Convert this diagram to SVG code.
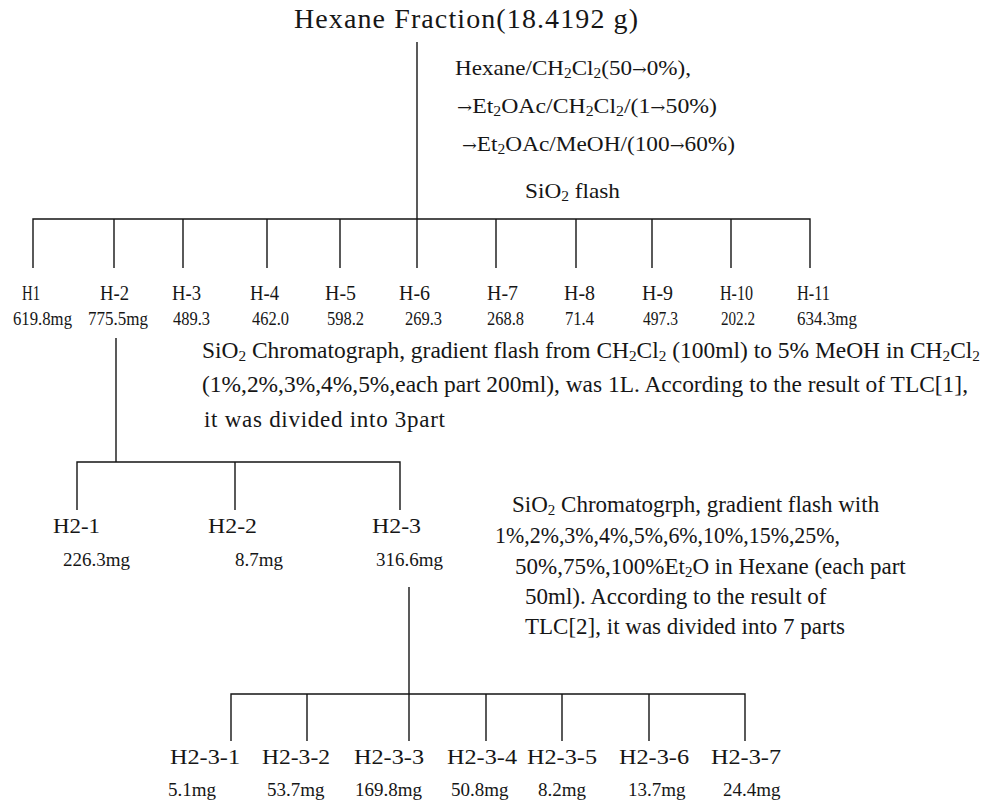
<svg xmlns="http://www.w3.org/2000/svg" width="993" height="804" viewBox="0 0 993 804">
<style>
text{font-family:"Liberation Serif","Times New Roman",serif;fill:#161616}
.t{font-size:28px}
.d{font-size:21px}
.h{font-size:20px}
.m{font-size:18px}
.l2{font-size:21px}
.m2{font-size:19px}
.p{font-size:23px}
.s{font-size:14px;baseline-shift:-3px}
.ps{font-size:15px;baseline-shift:-3px}
.ar{font-family:"DejaVu Serif",serif;font-size:16px}
#connectors path{stroke:#151515;stroke-width:1.4;fill:none}
</style>
<rect width="993" height="804" fill="#fff"/>
<g id="connectors">
<path d="M417 42V268"/>
<path d="M33 268V219H810V268"/>
<path d="M114 219V268M183 219V268M267 219V268M340 219V268M496 219V268M576 219V268M652 219V268M731 219V268"/>
<path d="M116 338V462"/>
<path d="M77 510V462H400V510M235 462V510"/>
<path d="M409 587V741"/>
<path d="M231 741V694H745V741"/>
<path d="M307 694V741M486 694V741M562 694V741M649 694V741"/>
</g>
<g id="node-hexane"><text class="t" x="294" y="28" textLength="344" lengthAdjust="spacing">Hexane Fraction(18.4192 g)</text></g>
<g id="note-flash">
<text class="d" x="455" y="75" textLength="236" lengthAdjust="spacingAndGlyphs">Hexane/CH<tspan class="s">2</tspan>Cl<tspan class="s">2</tspan>(50<tspan class="ar">→</tspan>0%),</text>
<text class="d" x="457" y="113" textLength="260" lengthAdjust="spacingAndGlyphs"><tspan class="ar">→</tspan>Et<tspan class="s">2</tspan>OAc/CH<tspan class="s">2</tspan>Cl<tspan class="s">2</tspan>/(1<tspan class="ar">→</tspan>50%)</text>
<text class="d" x="462" y="151" textLength="273" lengthAdjust="spacingAndGlyphs"><tspan class="ar">→</tspan>Et<tspan class="s">2</tspan>OAc/MeOH/(100<tspan class="ar">→</tspan>60%)</text>
<text class="d" x="525" y="198" textLength="95" lengthAdjust="spacingAndGlyphs">SiO<tspan class="s">2</tspan> flash</text>
</g>
<g id="node-H1"><text class="h" x="22" y="300" textLength="18" lengthAdjust="spacingAndGlyphs">H1</text><text class="m" x="13" y="325" textLength="59" lengthAdjust="spacingAndGlyphs">619.8mg</text></g>
<g id="node-H2"><text class="h" x="100" y="300" textLength="29" lengthAdjust="spacingAndGlyphs">H-2</text><text class="m" x="88" y="325" textLength="60" lengthAdjust="spacingAndGlyphs">775.5mg</text></g>
<g id="node-H3"><text class="h" x="172" y="300" textLength="29" lengthAdjust="spacingAndGlyphs">H-3</text><text class="m" x="173" y="325" textLength="37" lengthAdjust="spacingAndGlyphs">489.3</text></g>
<g id="node-H4"><text class="h" x="250" y="300" textLength="29" lengthAdjust="spacingAndGlyphs">H-4</text><text class="m" x="252" y="325" textLength="37" lengthAdjust="spacingAndGlyphs">462.0</text></g>
<g id="node-H5"><text class="h" x="325" y="300" textLength="31" lengthAdjust="spacingAndGlyphs">H-5</text><text class="m" x="327" y="325" textLength="37" lengthAdjust="spacingAndGlyphs">598.2</text></g>
<g id="node-H6"><text class="h" x="399" y="300" textLength="31" lengthAdjust="spacingAndGlyphs">H-6</text><text class="m" x="405" y="325" textLength="37" lengthAdjust="spacingAndGlyphs">269.3</text></g>
<g id="node-H7"><text class="h" x="487" y="300" textLength="31" lengthAdjust="spacingAndGlyphs">H-7</text><text class="m" x="487" y="325" textLength="37" lengthAdjust="spacingAndGlyphs">268.8</text></g>
<g id="node-H8"><text class="h" x="564" y="300" textLength="31" lengthAdjust="spacingAndGlyphs">H-8</text><text class="m" x="565" y="325" textLength="29" lengthAdjust="spacingAndGlyphs">71.4</text></g>
<g id="node-H9"><text class="h" x="642" y="300" textLength="31" lengthAdjust="spacingAndGlyphs">H-9</text><text class="m" x="643" y="325" textLength="35" lengthAdjust="spacingAndGlyphs">497.3</text></g>
<g id="node-H10"><text class="h" x="720" y="300" textLength="33" lengthAdjust="spacingAndGlyphs">H-10</text><text class="m" x="721" y="325" textLength="34" lengthAdjust="spacingAndGlyphs">202.2</text></g>
<g id="node-H11"><text class="h" x="797" y="300" textLength="33" lengthAdjust="spacingAndGlyphs">H-11</text><text class="m" x="797" y="325" textLength="60" lengthAdjust="spacingAndGlyphs">634.3mg</text></g>
<g id="note-chrom1">
<text class="p" x="202" y="358" textLength="778" lengthAdjust="spacingAndGlyphs">SiO<tspan class="ps">2</tspan> Chromatograph, gradient flash from CH<tspan class="ps">2</tspan>Cl<tspan class="ps">2</tspan> (100ml) to 5% MeOH in CH<tspan class="ps">2</tspan>Cl<tspan class="ps">2</tspan></text>
<text class="p" x="202" y="392" textLength="766" lengthAdjust="spacingAndGlyphs">(1%,2%,3%,4%,5%,each part 200ml), was 1L. According to the result of TLC[1],</text>
<text class="p" x="204" y="427" textLength="241" lengthAdjust="spacing">it was divided into 3part</text>
</g>
<g id="node-H2-1"><text class="l2" x="53" y="533" textLength="47" lengthAdjust="spacingAndGlyphs">H2-1</text><text class="m2" x="63" y="566">226.3mg</text></g>
<g id="node-H2-2"><text class="l2" x="208" y="533" textLength="49" lengthAdjust="spacingAndGlyphs">H2-2</text><text class="m2" x="235" y="566">8.7mg</text></g>
<g id="node-H2-3"><text class="l2" x="372" y="533" textLength="49" lengthAdjust="spacingAndGlyphs">H2-3</text><text class="m2" x="376" y="566">316.6mg</text></g>
<g id="note-chrom2">
<text class="p" x="512" y="512">SiO<tspan class="ps">2</tspan> Chromatogrph, gradient flash with</text>
<text class="p" x="495" y="543" textLength="345" lengthAdjust="spacingAndGlyphs">1%,2%,3%,4%,5%,6%,10%,15%,25%,</text>
<text class="p" x="515" y="574">50%,75%,100%Et<tspan class="ps">2</tspan>O in Hexane (each part</text>
<text class="p" x="525" y="604">50ml). According to the result  of</text>
<text class="p" x="525" y="634">TLC[2], it was divided into 7 parts</text>
</g>
<g id="node-H2-3-1"><text class="l2" x="170" y="764" textLength="70" lengthAdjust="spacingAndGlyphs">H2-3-1</text><text class="m2" x="168" y="796">5.1mg</text></g>
<g id="node-H2-3-2"><text class="l2" x="262" y="764" textLength="68" lengthAdjust="spacingAndGlyphs">H2-3-2</text><text class="m2" x="267" y="796">53.7mg</text></g>
<g id="node-H2-3-3"><text class="l2" x="354" y="764" textLength="70" lengthAdjust="spacingAndGlyphs">H2-3-3</text><text class="m2" x="355" y="796">169.8mg</text></g>
<g id="node-H2-3-4"><text class="l2" x="447" y="764" textLength="70" lengthAdjust="spacingAndGlyphs">H2-3-4</text><text class="m2" x="451" y="796">50.8mg</text></g>
<g id="node-H2-3-5"><text class="l2" x="527" y="764" textLength="70" lengthAdjust="spacingAndGlyphs">H2-3-5</text><text class="m2" x="538" y="796">8.2mg</text></g>
<g id="node-H2-3-6"><text class="l2" x="619" y="764" textLength="70" lengthAdjust="spacingAndGlyphs">H2-3-6</text><text class="m2" x="628" y="796">13.7mg</text></g>
<g id="node-H2-3-7"><text class="l2" x="711" y="764" textLength="70" lengthAdjust="spacingAndGlyphs">H2-3-7</text><text class="m2" x="723" y="796">24.4mg</text></g>
</svg>
